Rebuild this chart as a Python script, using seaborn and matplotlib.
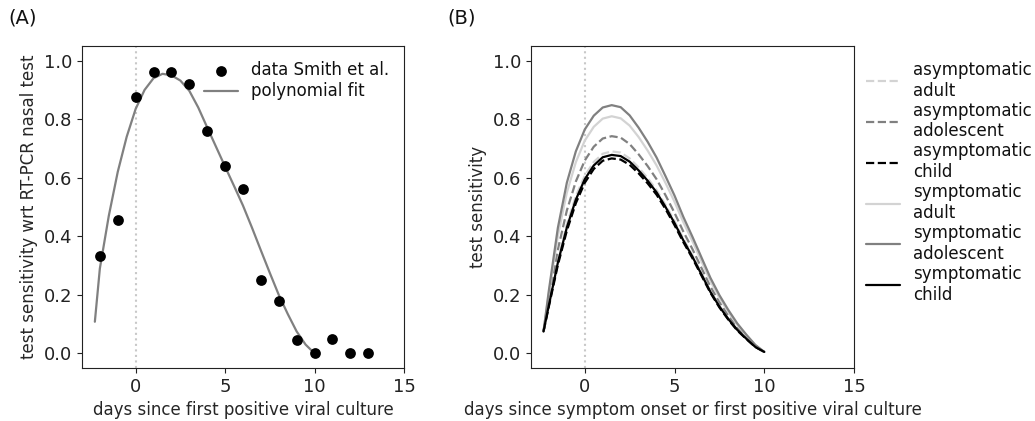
import matplotlib
matplotlib.use("Agg")
import matplotlib.pyplot as plt
import numpy as np
import pandas as pd
import seaborn as sns

# (A) measured data and polynomial fit
smith_days = [-2, -1, 0, 1, 2, 3, 4, 5, 6, 7, 8, 9, 10, 11, 12, 13]
smith_sens = [0.333, 0.455, 0.875, 0.96, 0.96, 0.92, 0.76, 0.64, 0.56, 0.25,
              0.18, 0.045, 0.0, 0.05, 0.0, 0.0]

fit_days = [-2.28, -2, -1.5, -1, -0.5, 0, 0.5, 1, 1.5, 2, 2.5, 3, 3.5, 4, 4.5,
            5, 5.5, 6, 6.5, 7, 7.5, 8, 8.5, 9, 9.5, 10]
fit_sens = [0.108, 0.29, 0.47, 0.62, 0.74, 0.835, 0.9, 0.94, 0.955, 0.95, 0.932,
            0.897, 0.84, 0.772, 0.705, 0.638, 0.572, 0.505, 0.43, 0.352, 0.275,
            0.2, 0.135, 0.075, 0.03, 0.0]

# (B) sensitivity curves per group
curve_days = [-2.3, -2, -1.5, -1, -0.5, 0, 0.5, 1, 1.5, 2, 2.5, 3, 3.5, 4, 4.5,
              5, 5.5, 6, 6.5, 7, 7.5, 8, 8.5, 9, 9.5, 10]
asym_adult = [0.075, 0.169, 0.318, 0.441, 0.537, 0.607, 0.654, 0.682, 0.69, 0.686,
              0.666, 0.635, 0.599, 0.558, 0.507, 0.452, 0.391, 0.335, 0.274, 0.213,
              0.163, 0.119, 0.082, 0.051, 0.022, 0.005]
asym_adolescent = [0.075, 0.184, 0.355, 0.488, 0.587, 0.659, 0.706, 0.734, 0.742, 0.737,
                   0.715, 0.68, 0.64, 0.595, 0.54, 0.48, 0.415, 0.356, 0.292, 0.228,
                   0.175, 0.129, 0.088, 0.055, 0.025, 0.005]
asym_child = [0.075, 0.161, 0.302, 0.419, 0.513, 0.583, 0.63, 0.658, 0.666, 0.662,
              0.644, 0.615, 0.581, 0.542, 0.493, 0.438, 0.379, 0.325, 0.266, 0.207,
              0.157, 0.115, 0.078, 0.049, 0.022, 0.005]
sym_adult = [0.075, 0.205, 0.402, 0.549, 0.653, 0.727, 0.774, 0.802, 0.81, 0.803,
             0.778, 0.739, 0.693, 0.642, 0.582, 0.518, 0.447, 0.383, 0.315, 0.247,
             0.19, 0.141, 0.097, 0.061, 0.027, 0.005]
sym_adolescent = [0.075, 0.216, 0.429, 0.583, 0.69, 0.765, 0.812, 0.84, 0.848, 0.841,
                  0.813, 0.771, 0.723, 0.669, 0.605, 0.539, 0.465, 0.398, 0.328, 0.258,
                  0.199, 0.148, 0.102, 0.064, 0.029, 0.005]
sym_child = [0.075, 0.165, 0.31, 0.43, 0.525, 0.595, 0.642, 0.67, 0.678, 0.674,
             0.655, 0.625, 0.59, 0.55, 0.5, 0.445, 0.385, 0.33, 0.27, 0.21,
             0.16, 0.117, 0.08, 0.05, 0.022, 0.005]

group_labels = ['asymptomatic\nadult', 'asymptomatic\nadolescent', 'asymptomatic\nchild',
                'symptomatic\nadult', 'symptomatic\nadolescent', 'symptomatic\nchild']
group_curves = [asym_adult, asym_adolescent, asym_child, sym_adult, sym_adolescent, sym_child]
group_colors = ['lightgray', 'gray', 'black', 'lightgray', 'gray', 'black']
group_dashes = [(3.7, 1.6), (3.7, 1.6), (3.7, 1.6), '', '', '']

sns.set_style('ticks')
plt.rcParams['font.family'] = ['DejaVu Sans']
plt.rcParams['font.size'] = 12
plt.rcParams['axes.labelsize'] = 12
plt.rcParams['xtick.labelsize'] = 13
plt.rcParams['ytick.labelsize'] = 13
plt.rcParams['axes.edgecolor'] = '#222222'
plt.rcParams['text.color'] = '#111111'
plt.rcParams['xtick.color'] = '#222222'
plt.rcParams['ytick.color'] = '#222222'

fig = plt.figure(figsize=(10.35, 4.21), dpi=100)
ax1 = fig.add_axes([0.0792, 0.1259, 0.3111, 0.7648])
ax2 = fig.add_axes([0.5130, 0.1259, 0.3121, 0.7648])

# ---- (A) ----
ax1.axvline(0, color='#c8c8c8', ls=':', lw=1.5, zorder=0)
sns.scatterplot(x=smith_days, y=smith_sens, color='black', s=60, linewidth=0,
                ax=ax1, zorder=3, label='data Smith et al.')
sns.lineplot(x=fit_days, y=fit_sens, color='gray', lw=1.6, ax=ax1, sort=False,
             label='polynomial fit')
handles, labels = ax1.get_legend_handles_labels()
order = [labels.index('data Smith et al.'), labels.index('polynomial fit')]
ax1.legend([handles[i] for i in order], [labels[i] for i in order],
           loc='upper right', frameon=False, labelspacing=0.2, fontsize=12)
ax1.set_xlim(-3, 15)
ax1.set_ylim(-0.05, 1.05)
ax1.set_xticks([0, 5, 10, 15])
ax1.set_xlabel('days since first positive viral culture', labelpad=4)
ax1.set_ylabel('test sensitivity wrt RT-PCR nasal test')

# ---- (B) ----
df = pd.DataFrame({
    'day': np.tile(curve_days, len(group_labels)),
    'sens': np.concatenate(group_curves),
    'group': np.repeat(group_labels, len(curve_days)),
})
ax2.axvline(0, color='#c8c8c8', ls=':', lw=1.5, zorder=0)
sns.lineplot(data=df, x='day', y='sens', hue='group', style='group',
             hue_order=group_labels, style_order=group_labels,
             palette=dict(zip(group_labels, group_colors)),
             dashes=dict(zip(group_labels, group_dashes)),
             estimator=None, lw=1.6, ax=ax2)
handles, labels = ax2.get_legend_handles_labels()
ax2.legend(handles, labels, loc='upper left', bbox_to_anchor=(1.018, 0.975),
           frameon=False, labelspacing=0.12, fontsize=12, borderaxespad=0)
ax2.set_xlim(-3, 15)
ax2.set_ylim(-0.05, 1.05)
ax2.set_xticks([0, 5, 10, 15])
ax2.set_xlabel('days since symptom onset or first positive viral culture', labelpad=4)
ax2.set_ylabel('test sensitivity')

fig.text(0.008, 0.957, '(A)', fontsize=14, va='center', ha='left')
fig.text(0.432, 0.957, '(B)', fontsize=14, va='center', ha='left')

fig.savefig('out.png', dpi=100)
